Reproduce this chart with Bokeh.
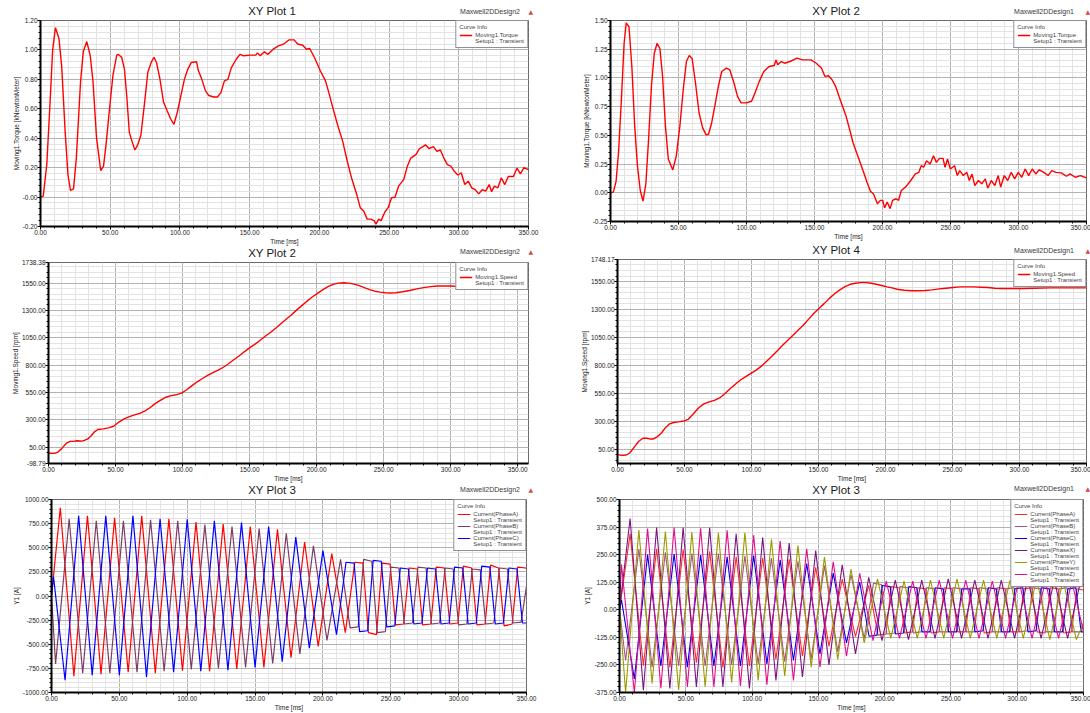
from bokeh.plotting import figure
from bokeh.layouts import row, column
from bokeh.models import FixedTicker, PrintfTickFormatter, Legend, LegendItem, Range1d, Div
from bokeh.embed import file_html
from bokeh.resources import INLINE

FONT = "Liberation Sans"

# ---------------- axis ticks / labels ----------------
x_ticks = [0, 50, 100, 150, 200, 250, 300, 350]
x_tick_labels = ["0.00", "50.00", "100.00", "150.00", "200.00", "250.00", "300.00", "350.00"]
x_minor = list(range(0, 360, 10))

tl_y_ticks = [-0.2, 0.0, 0.2, 0.4, 0.6, 0.8, 1.0, 1.2]
tl_y_labels = ["-0.20", "-0.00", "0.20", "0.40", "0.60", "0.80", "1.00", "1.20"]
tr_y_ticks = [-0.25, 0.0, 0.25, 0.5, 0.75, 1.0, 1.25, 1.5]
tr_y_labels = ["-0.25", "0.00", "0.25", "0.50", "0.75", "1.00", "1.25", "1.50"]
ml_y_ticks = [-98.79, 50, 300, 550, 800, 1050, 1300, 1550, 1738.38]
ml_y_labels = ["-98.79", "50.00", "300.00", "550.00", "800.00", "1050.00", "1300.00", "1550.00", "1738.38"]
mr_y_ticks = [50, 300, 550, 800, 1050, 1300, 1550, 1748.17]
mr_y_labels = ["50.00", "300.00", "550.00", "800.00", "1050.00", "1300.00", "1550.00", "1748.17"]
bl_y_ticks = [-1000, -750, -500, -250, 0, 250, 500, 750, 1000]
bl_y_labels = ["-1000.00", "-750.00", "-500.00", "-250.00", "0.00", "250.00", "500.00", "750.00", "1000.00"]
br_y_ticks = [-375, -250, -125, 0, 125, 250, 375, 500]
br_y_labels = ["-375.00", "-250.00", "-125.00", "0.00", "125.00", "250.00", "375.00", "500.00"]

# ---------------- series (time ms, value) ----------------
torque_design2 = [
    (0, 0.0), (2, 0.007), (4.5, 0.22), (7, 0.67), (8.7, 1.0), (10.7, 1.151), (13.2, 1.08), (15.2, 0.89),
    (17.7, 0.44), (19.7, 0.15), (21.5, 0.045), (23.7, 0.056), (25.7, 0.265), (28.7, 0.78), (30.7, 0.99),
    (33.2, 1.057), (35.7, 0.96), (37.7, 0.78), (40.2, 0.40), (43.2, 0.18), (45.2, 0.21), (47, 0.355),
    (49.5, 0.60), (52, 0.83), (54.7, 0.965), (55.7, 0.97), (58.2, 0.95), (60.2, 0.87), (62, 0.67),
    (63.7, 0.44), (65.7, 0.377), (67.7, 0.32), (69.7, 0.355), (72, 0.42), (74.4, 0.62), (77, 0.85),
    (79.4, 0.915), (81.4, 0.95), (83.2, 0.915), (85.7, 0.80), (88.2, 0.646), (90.7, 0.59), (93.2, 0.534),
    (95.7, 0.494), (98.2, 0.58), (100.7, 0.69), (103.2, 0.80), (105.7, 0.87), (108.2, 0.915), (111.9, 0.92),
    (113.2, 0.86), (115.7, 0.80), (118.2, 0.725), (120.7, 0.69), (124.4, 0.68), (126.9, 0.68), (129.4, 0.71),
    (131.9, 0.79), (134.4, 0.80), (136.9, 0.88), (140.6, 0.94), (143.1, 0.97), (145.6, 0.96), (150.6, 0.965),
    (154.4, 0.965), (155.6, 0.98), (157.6, 0.96), (160.6, 0.987), (163.1, 0.97), (166.9, 1.005), (170.6, 1.028),
    (174.4, 1.04), (178.1, 1.068), (181.9, 1.068), (184.4, 1.04), (188.1, 1.032), (190.7, 1.005), (193.1, 1.01),
    (196.9, 0.94), (200.6, 0.86), (204.4, 0.79), (206.8, 0.71), (209.3, 0.62), (213.1, 0.49), (216.8, 0.377),
    (220.1, 0.24), (223.1, 0.13), (226.8, 0.018), (229.3, -0.072), (231.8, -0.094), (234.3, -0.15),
    (236.8, -0.15), (239.3, -0.16), (240.6, -0.184), (242.6, -0.15), (244.3, -0.16), (246.8, -0.105),
    (249.3, -0.072), (251.8, -0.005), (254.3, 0.0), (256.8, 0.074), (260.6, 0.12), (263.1, 0.21),
    (265.6, 0.265), (269.4, 0.29), (271.8, 0.33), (274.3, 0.343), (276.1, 0.355), (278.6, 0.33),
    (281.8, 0.343), (284.3, 0.31), (286.8, 0.32), (289.3, 0.265), (291.8, 0.22), (294.3, 0.21),
    (296.8, 0.175), (299.3, 0.15), (301.8, 0.164), (304.3, 0.085), (306.8, 0.108), (309.3, 0.063),
    (311.8, 0.05), (314.3, 0.022), (316.8, 0.05), (319.3, 0.04), (321.8, 0.085), (323.5, 0.036),
    (325.5, 0.074), (328, 0.063), (330.5, 0.13), (333, 0.085), (335.5, 0.14), (339.2, 0.14),
    (341.7, 0.197), (344.2, 0.157), (346.7, 0.2), (350, 0.186),
]

torque_design1 = [
    (0, 0.0), (2.1, 0.006), (4.1, 0.10), (5.9, 0.35), (8.0, 0.81), (10.0, 1.30), (11.6, 1.48), (13.6, 1.445),
    (15.7, 1.10), (17.8, 0.58), (19.8, 0.236), (21.9, 0.02), (23.9, -0.072), (26.0, 0.078), (28.0, 0.466),
    (30.1, 0.93), (32.2, 1.215), (34.2, 1.30), (36.3, 1.258), (38.3, 1.013), (40.4, 0.58), (42.5, 0.294),
    (45.8, 0.199), (48.4, 0.322), (51.0, 0.58), (53.5, 0.90), (55.8, 1.143), (57.9, 1.195), (60.0, 1.17),
    (62.5, 0.956), (65.1, 0.697), (67.7, 0.567), (70.3, 0.504), (72.1, 0.51), (74.4, 0.61), (76.7, 0.754),
    (79.3, 0.927), (81.8, 1.056), (85.2, 1.085), (87.7, 1.071), (90.8, 0.956), (93.4, 0.84), (96.0, 0.783),
    (99.8, 0.783), (103.7, 0.797), (106.3, 0.87), (109.4, 0.97), (112.7, 1.056), (116.6, 1.10), (120.4, 1.108),
    (121.7, 1.157), (123.0, 1.114), (125.6, 1.143), (128.1, 1.128), (132.0, 1.143), (137.2, 1.172),
    (141.0, 1.157), (143.6, 1.157), (147.5, 1.157), (151.3, 1.128), (155.2, 1.085), (157.7, 1.013),
    (160.3, 1.019), (162.9, 0.984), (165.5, 0.927), (168.0, 0.84), (170.6, 0.754), (173.2, 0.668),
    (175.8, 0.553), (178.3, 0.438), (180.9, 0.351), (183.5, 0.265), (186.1, 0.178), (188.6, 0.092),
    (191.2, 0.012), (193.3, -0.009), (196.3, -0.095), (198.4, -0.066), (200.2, -0.066), (201.5, -0.132),
    (203.5, -0.081), (205.6, -0.138), (207.4, -0.066), (210.0, -0.052), (211.8, -0.066), (213.8, 0.02),
    (216.9, 0.049), (220.8, 0.107), (224.1, 0.164), (226.7, 0.178), (228.5, 0.236), (230.3, 0.222),
    (232.4, 0.279), (235.0, 0.25), (237.5, 0.322), (239.6, 0.265), (241.9, 0.30), (244.5, 0.30),
    (246.0, 0.222), (247.8, 0.294), (249.9, 0.207), (253.0, 0.236), (255.0, 0.15), (256.8, 0.193),
    (259.4, 0.15), (262.0, 0.178), (263.8, 0.107), (265.8, 0.164), (267.9, 0.063), (270.5, 0.107),
    (273.0, 0.078), (275.6, 0.121), (277.4, 0.04), (280.0, 0.107), (282.6, 0.063), (285.1, 0.15),
    (286.9, 0.049), (289.5, 0.15), (292.1, 0.107), (294.6, 0.178), (297.2, 0.121), (299.8, 0.178),
    (302.4, 0.135), (304.9, 0.207), (307.5, 0.15), (310.1, 0.207), (312.7, 0.164), (315.2, 0.20),
    (318.6, 0.178), (321.7, 0.15), (324.5, 0.193), (327.6, 0.178), (331.4, 0.173), (335.3, 0.144),
    (337.9, 0.164), (341.7, 0.135), (345.6, 0.15), (350, 0.13),
]

speed_design2 = [
    (0, 0), (1.8, -6), (4.4, -6), (7, 6), (9.6, 35), (13.5, 88), (16.1, 103), (18.7, 103), (21.3, 109),
    (25.2, 106), (29.1, 124), (31.7, 153), (34.3, 191), (36.9, 212), (40.8, 218), (44.7, 227), (48.6, 242),
    (52.5, 280), (56.4, 309), (60.3, 330), (64.2, 345), (68.1, 359), (72, 383), (75.9, 413), (79.8, 451),
    (83.7, 480), (87.6, 507), (91.5, 522), (95.4, 530), (99.3, 545), (103.1, 575), (107.0, 613), (110.9, 648),
    (114.8, 678), (118.7, 707), (122.6, 731), (126.5, 754), (130.4, 781), (134.3, 813), (138.2, 849),
    (142.1, 884), (146.0, 922), (149.9, 958), (153.8, 990), (157.7, 1026), (161.6, 1064), (165.5, 1099),
    (169.4, 1138), (173.3, 1179), (177.2, 1220), (181.1, 1258), (185.0, 1303), (188.9, 1344), (192.8, 1385),
    (196.7, 1423), (200.6, 1456), (204.5, 1488), (208.4, 1517), (212.3, 1538), (216.2, 1550), (220.1, 1553),
    (224.0, 1550), (227.9, 1541), (231.8, 1527), (235.6, 1509), (239.5, 1491), (243.4, 1476), (247.3, 1468),
    (251.2, 1462), (255.1, 1459), (259, 1462), (264.2, 1471), (269.4, 1482), (274.6, 1497), (279.8, 1509),
    (285.0, 1518), (290.2, 1524), (295.4, 1524), (300.6, 1524), (305.8, 1518), (311.0, 1512), (316.2, 1506),
    (321.4, 1500), (326.6, 1497), (331.8, 1494), (339.6, 1494), (350, 1494),
]

speed_design1 = [
    (0, 0), (3.4, -6), (6.5, -3), (9.1, 15), (12.5, 68), (15.9, 120), (19.0, 147), (21.6, 147), (24.2, 141),
    (26.8, 141), (29.9, 162), (32.8, 194), (35.9, 244), (38.5, 273), (41.9, 288), (45.5, 294), (49.7, 302),
    (52.8, 317), (56.7, 367), (60.6, 420), (64.5, 455), (68.4, 473), (72.3, 487), (76.2, 508), (80.1, 546),
    (84.0, 590), (87.9, 631), (91.8, 669), (95.7, 699), (99.6, 728), (103.5, 757), (107.4, 793), (111.3, 837),
    (115.2, 881), (119.1, 928), (123.0, 977), (126.9, 1022), (130.8, 1068), (134.7, 1115), (138.6, 1159),
    (142.5, 1212), (146.4, 1265), (150.3, 1309), (154.2, 1353), (158.1, 1400), (162.0, 1441), (165.9, 1476),
    (169.8, 1506), (173.7, 1526), (177.6, 1535), (181.5, 1541), (185.4, 1541), (189.3, 1535), (193.2, 1526),
    (197.1, 1515), (201.0, 1503), (204.9, 1494), (208.8, 1482), (214.0, 1473), (219.2, 1468), (224.4, 1468),
    (229.6, 1471), (234.8, 1476), (240.0, 1485), (245.2, 1491), (250.4, 1497), (255.6, 1503), (260.8, 1503),
    (266.0, 1503), (271.2, 1500), (276.4, 1497), (281.6, 1491), (286.8, 1488), (294.6, 1488), (302.4, 1488),
    (310.2, 1491), (323.2, 1494), (336.2, 1494), (350, 1494),
]

# Plot 3 (Design2): phase currents, extrema
d2_phaseA_t = [0, 6.5, 16.5, 26.5, 36.5, 46.5, 56.5, 66.5, 76.5, 86.5, 96.5, 106.5, 116.5, 126.5, 136.5, 146.5,
               156.5, 166.5, 176.5, 186.5, 196.5, 206.5, 216.5, 223.5, 229.5, 233.5, 239.5, 243.5, 249.5, 253.5,
               259.5, 263.5, 269.5, 273.5, 279.5, 283.5, 289.5, 293.5, 299.5, 303.5, 309.5, 313.5, 319.5, 323.5,
               329.5, 333.5, 339.5, 343.5, 349.5, 350]
d2_phaseA_v = [0, 915, -830, 830, -810, 810, -790, 830, -800, 800, -773, 765, -780, 745, -756, 720, -740, 690,
               -640, 560, -522, 440, -380, 350, 340, -380, -400, 340, 330, -300, -290, 290, 280, -300, -290, 300,
               290, -290, -280, 310, 290, -300, -290, 320, 290, -310, -290, 300, 290, 285]
d2_phaseB_t = [0, 3, 13, 23, 33, 43, 53, 63, 73, 83, 93, 103, 113, 123, 133, 143, 153, 163, 173, 183, 193, 203,
               213, 220, 226, 230, 236, 240, 246, 250, 256, 260, 266, 270, 276, 280, 286, 290, 296, 300, 306, 310,
               316, 320, 326, 330, 336, 340, 346, 350]
d2_phaseB_v = [0, -705, 800, -800, 780, -800, 780, -790, 790, -780, 780, -760, 740, -750, 720, -740, 700, -700,
               650, -600, 520, -460, 380, -330, -320, 380, 360, -380, -370, 300, 290, -290, -280, 300, 290, -290,
               -280, 290, 280, -300, -290, 280, 270, -290, -280, 290, 280, -280, -270, 100]
d2_phaseC_t = [0, 1.5, 10, 20, 30, 40, 50, 60, 70, 80, 90, 100, 110, 120, 130, 140, 150, 160, 170, 180, 190, 200,
               210, 217, 223, 227, 233, 237, 243, 247, 253, 257, 263, 267, 273, 277, 283, 287, 293, 297, 303, 307,
               313, 317, 323, 327, 333, 337, 343, 347, 350]
d2_phaseC_v = [0, 200, -873, 830, -820, 830, -820, 830, -840, 800, -790, 795, -780, 780, -770, 760, -740, 720,
               -680, 610, -540, 470, -400, 350, 340, -370, -360, 370, 360, -320, -310, 290, 280, -290, -280, 290,
               280, -290, -280, 300, 290, -290, -280, 310, 300, -290, -280, 290, 280, -280, -280]

# Plot 3 (Design1): six phase currents
d1_phaseA_t = [0, 8, 18, 28, 38, 48, 58, 68, 78, 88, 98, 108, 118, 128, 138, 148, 158, 168, 178, 188, 195, 201,
               205, 211, 215, 221, 225, 231, 235, 241, 245, 251, 255, 261, 265, 271, 275, 281, 285, 291, 295, 301,
               305, 311, 315, 321, 325, 331, 335, 341, 345, 350]
d1_phaseA_v = [0, 345, -254, 277, -261, 273, -240, 265, -261, 240, -254, 236, -225, 229, -210, 192, -166, 139,
               -122, 111, -115, -110, 105, 100, -105, -100, 100, 95, -105, -100, 100, 95, -100, -100, 100, 95,
               -105, -100, 100, 95, -100, -100, 95, 100, -100, -105, 100, 95, -105, -100, 95, 90]
d1_phaseB_t = [0, 4.6, 14.6, 24.6, 34.6, 44.6, 54.6, 64.6, 74.6, 84.6, 94.6, 104.6, 114.6, 124.6, 134.6, 144.6,
               154.6, 164.6, 174.6, 184.6, 191.6, 197.6, 201.6, 207.6, 211.6, 217.6, 221.6, 227.6, 231.6, 237.6,
               241.6, 247.6, 251.6, 257.6, 261.6, 267.6, 271.6, 277.6, 281.6, 287.6, 291.6, 297.6, 301.6, 307.6,
               311.6, 317.6, 321.6, 327.6, 331.6, 337.6, 341.6, 347.6, 350]
d1_phaseB_v = [0, -230, 275, -260, 260, -255, 255, -255, 255, -250, 245, -245, 235, -235, 220, -225, 200, -190,
               160, -130, 120, 115, -110, -105, 105, 100, -105, -100, 100, 95, -100, -100, 100, 95, -100, -100,
               100, 95, -100, -100, 95, 100, -100, -95, 100, 95, -100, -100, 95, 100, -100, -100, -60]
d1_phaseC_t = [0, 1.5, 11.2, 21.2, 31.2, 41.2, 51.2, 61.2, 71.2, 81.2, 91.2, 101.2, 111.2, 121.2, 131.2, 141.2,
               151.2, 161.2, 171.2, 181.2, 188.2, 194.2, 198.2, 204.2, 208.2, 214.2, 218.2, 224.2, 228.2, 234.2,
               238.2, 244.2, 248.2, 254.2, 258.2, 264.2, 268.2, 274.2, 278.2, 284.2, 288.2, 294.2, 298.2, 304.2,
               308.2, 314.2, 318.2, 324.2, 328.2, 334.2, 338.2, 344.2, 348.2, 350]
d1_phaseC_v = [0, 45, -313, 250, -255, 253, -260, 248, -255, 240, -255, 246, -245, 226, -230, 210, -200, 166,
               -150, 126, -120, -115, 110, 105, -110, -105, 105, 100, -100, -100, 100, 95, -100, -100, 95, 95,
               -100, -95, 100, 95, -100, -100, 95, 100, -100, -95, 100, 95, -100, -100, 95, 100, -100, -100]
d1_phaseX_t = [0, 8, 18, 28, 38, 48, 58, 68, 78, 88, 98, 108, 118, 128, 138, 148, 158, 168, 178, 188, 198, 208,
               218, 228, 238, 248, 258, 268, 278, 288, 298, 308, 318, 328, 338, 348, 350]
d1_phaseX_v = [0, 414, -365, 373, -357, 373, -350, 372, -350, 345, -357, 328, -320, 302, -305, 268, -250, 204,
               -200, 147, -140, 135, -135, 135, -130, 140, -130, 135, -130, 135, -130, 140, -130, 135, -130, 135,
               110]
d1_phaseY_t = [0, 4.6, 14.6, 24.6, 34.6, 44.6, 54.6, 64.6, 74.6, 84.6, 94.6, 104.6, 114.6, 124.6, 134.6, 144.6,
               154.6, 164.6, 174.6, 184.6, 194.6, 204.6, 214.6, 224.6, 234.6, 244.6, 254.6, 264.6, 274.6, 284.6,
               294.6, 304.6, 314.6, 324.6, 334.6, 344.6, 350]
d1_phaseY_v = [0, -375, 361, -334, 355, -364, 353, -349, 350, -330, 350, -320, 320, -300, 291, -260, 239, -225,
               185, -150, 140, -130, 130, -130, 135, -130, 140, -130, 135, -130, 135, -130, 140, -135, 135, -135,
               -60]
d1_phaseZ_t = [0, 1.5, 11.2, 21.2, 31.2, 41.2, 51.2, 61.2, 71.2, 81.2, 91.2, 101.2, 111.2, 121.2, 131.2, 141.2,
               151.2, 161.2, 171.2, 181.2, 191.2, 201.2, 211.2, 221.2, 231.2, 241.2, 251.2, 261.2, 271.2, 281.2,
               291.2, 301.2, 311.2, 321.2, 331.2, 341.2, 350]
d1_phaseZ_v = [0, 205, -375, 368, -355, 373, -350, 370, -350, 360, -345, 338, -340, 312, -320, 277, -260, 218,
               -210, 165, -140, 130, -130, 130, -130, 135, -130, 135, -130, 130, -130, 135, -130, 130, -130, 130,
               -100]


def minor_steps(start, stop, step):
    out, v = [], start
    while v <= stop + 1e-9:
        out.append(round(v, 6))
        v += step
    return out


def style_axis(ax):
    ax.axis_line_color = "black"
    ax.axis_line_width = 2
    ax.major_tick_line_color = "black"
    ax.major_tick_out = 3
    ax.major_tick_in = 0
    ax.minor_tick_line_color = "black"
    ax.minor_tick_out = 2
    ax.minor_tick_in = 0
    ax.major_label_text_font = FONT
    ax.major_label_text_font_size = "6.5px"
    ax.major_label_text_color = "#1a1a1a"
    ax.major_label_standoff = 0
    ax.axis_label_text_font = FONT
    ax.axis_label_text_font_size = "6.5px"
    ax.axis_label_text_font_style = "normal"
    ax.axis_label_text_color = "#1a1a1a"
    ax.axis_label_standoff = 0


def header(width, height, title, title_cx, title_top, design, design_right, design_top, tri_right):
    html = (
        f'<div style="position:relative;width:{width}px;height:{height}px;'
        f'font-family:\'Liberation Sans\',Arial,sans-serif;font-weight:normal;">'
        f'<span style="position:absolute;left:{title_cx}px;top:{title_top}px;transform:translateX(-50%);'
        f'font-size:11.5px;line-height:13px;font-weight:normal;color:#1a1a1a;white-space:nowrap;">{title}</span>'
        f'<span style="position:absolute;right:{design_right}px;top:{design_top}px;font-size:7px;'
        f'line-height:8px;font-weight:normal;color:#3a3a3a;white-space:nowrap;">{design}</span>'
        f'<span style="position:absolute;right:{tri_right}px;top:{design_top}px;font-size:6px;'
        f'line-height:8px;color:#d24b4b;font-family:\'DejaVu Sans\';">&#9650;</span>'
        '</div>'
    )
    return Div(text=html, width=width, height=height, margin=0)


def panel(w, h, borders, x_end, y_rng, y_ticks, y_labels, y_minor, y_title):
    left, right, top, bottom = borders
    p = figure(width=w, height=h, x_range=Range1d(0, x_end), y_range=Range1d(*y_rng),
               output_backend="svg", toolbar_location=None,
               min_border_left=left, min_border_right=right, min_border_top=top, min_border_bottom=bottom)
    p.background_fill_color = "white"
    p.border_fill_color = "white"
    p.outline_line_color = "#6a6a6a"
    p.outline_line_width = 1
    xa, ya = p.xaxis[0], p.yaxis[0]
    xa.ticker = FixedTicker(ticks=x_ticks, minor_ticks=x_minor)
    xa.formatter = PrintfTickFormatter(format="%.2f")
    xa.major_label_overrides = dict(zip(x_ticks, x_tick_labels))
    ya.ticker = FixedTicker(ticks=y_ticks, minor_ticks=y_minor)
    ya.formatter = PrintfTickFormatter(format="%.2f")
    ya.major_label_overrides = dict(zip(y_ticks, y_labels))
    xa.axis_label = "Time [ms]"
    ya.axis_label = y_title
    style_axis(xa)
    style_axis(ya)
    for g in (p.xgrid[0], p.ygrid[0]):
        g.grid_line_color = "#b2b2b2"
        g.grid_line_width = 1
        g.minor_grid_line_color = "#e3e3e3"
        g.minor_grid_line_width = 1
    return p


def add_legend(p, entries):
    blank = p.line([0], [0], line_alpha=0)
    items = []
    for name, r in entries:
        items.append(LegendItem(label=name, renderers=[r]))
        items.append(LegendItem(label="Setup1 : Transient", renderers=[blank]))
    lg = Legend(items=items, location="top_right", title="Curve Info",
                title_text_font=FONT, title_text_font_size="6px", title_text_font_style="normal",
                title_standoff=2, label_text_font=FONT, label_text_font_size="6px",
                label_height=6, glyph_height=6, glyph_width=13, label_standoff=3,
                spacing=0, padding=3, margin=0, border_line_color="#222222", border_line_width=1,
                background_fill_color="white", background_fill_alpha=1)
    p.add_layout(lg)


def xs(pairs):
    return [a for a, _ in pairs]


def ys(pairs):
    return [b for _, b in pairs]


def boxed(p):
    # wrap a figure on its own so that frames are not aligned across the column
    return row(p, spacing=0, margin=0)


LW = 1.4
W = 545
# ---- left column (Design2) ----
h1 = header(W, 16, "XY Plot 1", 272, 5, "Maxwell2DDesign2", 25, 8, 12)
p1 = panel(W, 231, (40, 17, 4, 20), 350, (-0.2, 1.2), tl_y_ticks, tl_y_labels, minor_steps(-0.2, 1.2, 0.04),
           "Moving1.Torque [kNewtonMeter]")
r = p1.line(xs(torque_design2), ys(torque_design2), line_color="#ff0000", line_width=LW)
add_legend(p1, [("Moving1.Torque", r)])

h3 = header(W, 12, "XY Plot 2", 272, 0, "Maxwell2DDesign2", 25, 1, 12)
p3 = panel(W, 225, (48, 17, 3, 20), 358, (-98.79, 1738.38), ml_y_ticks, ml_y_labels,
           minor_steps(0, 1700, 50), "Moving1.Speed [rpm]")
r = p3.line(xs(speed_design2), ys(speed_design2), line_color="#ff0000", line_width=LW)
add_legend(p3, [("Moving1.Speed", r)])

h5 = header(W, 12, "XY Plot 3", 272, 0, "Maxwell2DDesign2", 25, 2, 12)
p5 = panel(W, 217, (51, 19, 3, 20), 350, (-1000, 1000), bl_y_ticks, bl_y_labels,
           minor_steps(-1000, 1000, 50), "Y1 [A]")
ra = p5.line(d2_phaseA_t, d2_phaseA_v, line_color="#ff0000", line_width=1.2)
rb = p5.line(d2_phaseB_t, d2_phaseB_v, line_color="#7d3c63", line_width=1.2)
rc = p5.line(d2_phaseC_t, d2_phaseC_v, line_color="#0000ff", line_width=1.2)
add_legend(p5, [("Current(PhaseA)", ra), ("Current(PhaseB)", rb), ("Current(PhaseC)", rc)])

# ---- right column (Design1) ----
h2 = header(W, 16, "XY Plot 2", 291, 5, "Maxwell2DDesign1", 16, 8, 0)
p2 = panel(W, 226, (65, 4, 4, 20), 350, (-0.25, 1.5), tr_y_ticks, tr_y_labels, minor_steps(-0.25, 1.5, 0.05),
           "Moving1.Torque [kNewtonMeter]")
r = p2.line(xs(torque_design1), ys(torque_design1), line_color="#ff0000", line_width=LW)
add_legend(p2, [("Moving1.Torque", r)])

h4 = header(W, 14, "XY Plot 4", 291, 2, "Maxwell2DDesign1", 16, 5, 0)
p4 = panel(W, 228, (72, 4, 3, 20), 350, (-79, 1748.17), mr_y_ticks, mr_y_labels,
           minor_steps(-50, 1700, 50), "Moving1.Speed [rpm]")
r = p4.line(xs(speed_design1), ys(speed_design1), line_color="#ff0000", line_width=LW)
add_legend(p4, [("Moving1.Speed", r)])

h6 = header(W, 12, "XY Plot 3", 291, 0, "Maxwell2DDesign1", 16, 1, 0)
p6 = panel(W, 217, (74, 7, 3, 20), 350, (-375, 500), br_y_ticks, br_y_labels,
           minor_steps(-375, 500, 25), "Y1 [A]")
r6 = [
    ("Current(PhaseA)", p6.line(d1_phaseA_t, d1_phaseA_v, line_color="#ff2a2a", line_width=1.1)),
    ("Current(PhaseB)", p6.line(d1_phaseB_t, d1_phaseB_v, line_color="#a4577e", line_width=1.1)),
    ("Current(PhaseC)", p6.line(d1_phaseC_t, d1_phaseC_v, line_color="#0000e6", line_width=1.1)),
    ("Current(PhaseX)", p6.line(d1_phaseX_t, d1_phaseX_v, line_color="#7a1480", line_width=1.1)),
    ("Current(PhaseY)", p6.line(d1_phaseY_t, d1_phaseY_v, line_color="#9c9a00", line_width=1.1)),
    ("Current(PhaseZ)", p6.line(d1_phaseZ_t, d1_phaseZ_v, line_color="#e0108c", line_width=1.1)),
]
add_legend(p6, r6)

layout = row(column(h1, boxed(p1), h3, boxed(p3), h5, boxed(p5), spacing=0),
             column(h2, boxed(p2), h4, boxed(p4), h6, boxed(p6), spacing=0), spacing=0)

open("out.html", "w").write(file_html(layout, INLINE))
